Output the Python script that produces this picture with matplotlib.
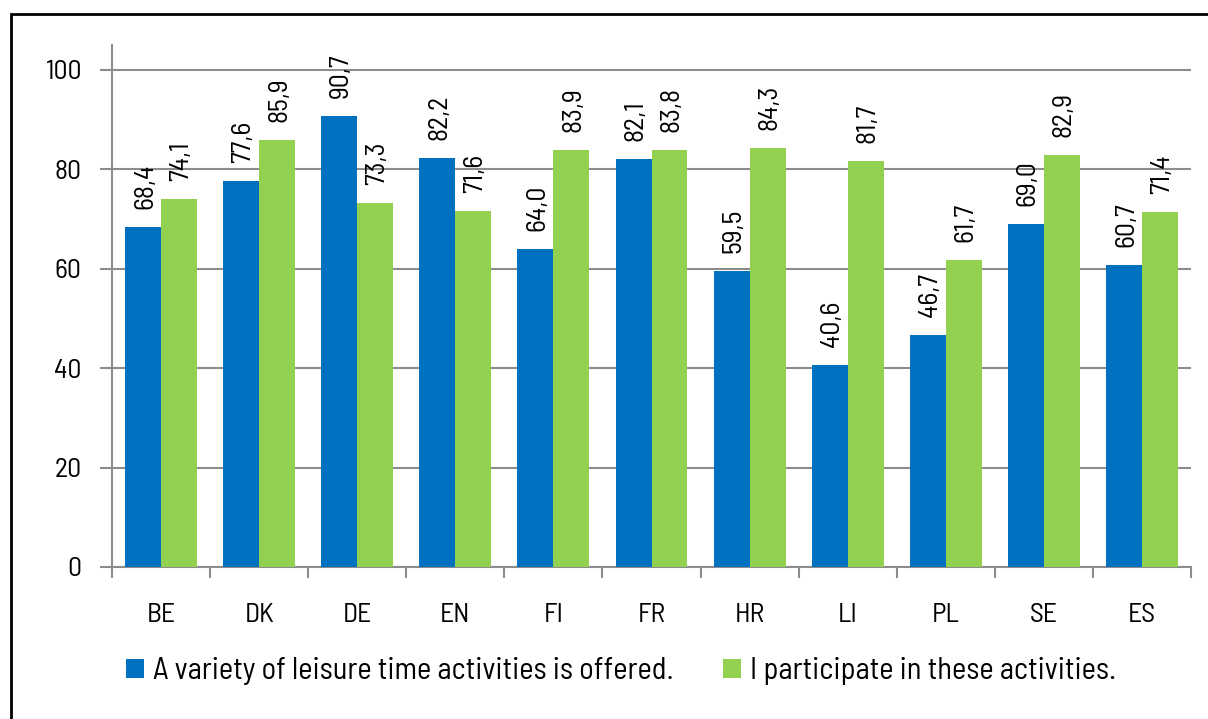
import matplotlib.pyplot as plt
import numpy as np
from matplotlib.patches import Rectangle

countries = ['BE', 'DK', 'DE', 'EN', 'FI', 'FR', 'HR', 'LI', 'PL', 'SE', 'ES']
offered = [68.4, 77.6, 90.7, 82.2, 64.0, 82.1, 59.5, 40.6, 46.7, 69.0, 60.7]
participate = [74.1, 85.9, 73.3, 71.6, 83.9, 83.8, 84.3, 81.7, 61.7, 82.9, 71.4]
series_names = ['A variety of leisure time activities is offered.',
                'I participate in these activities.']

blue = '#0070C0'
green = '#92D050'
grid_col = '#8c8c8c'

plt.rcParams['font.family'] = ['Barlow Semi Condensed', 'Lato', 'DejaVu Sans']

fig = plt.figure(figsize=(12.08, 7.19), dpi=100)
# outer frame
fig.patches.append(Rectangle((11 / 1208, -0.1), 1.2, 1 - 14 / 719 + 0.1,
                             transform=fig.transFigure, fill=False,
                             edgecolor='black', linewidth=2))

ax = fig.add_axes([112 / 1208, 1 - 567 / 719, (1191 - 112) / 1208, (567 - 45) / 719])

x = np.arange(len(countries))
w = 0.367
b1 = ax.bar(x - w / 2, offered, w, color=blue, label=series_names[0], zorder=3)
b2 = ax.bar(x + w / 2, participate, w, color=green, label=series_names[1], zorder=3)

for bars, vals in [(b1, offered), (b2, participate)]:
    for r, v in zip(bars, vals):
        ax.text(r.get_x() + r.get_width() / 2 + 0.02, v + 3.6, f'{v:.1f}'.replace('.', ','),
                rotation=90, ha='center', va='bottom', fontsize=20)

ax.set_xlim(-0.5, len(countries) - 0.5)
ax.set_ylim(0, 105)
ax.set_yticks([0, 20, 40, 60, 80, 100])
ax.tick_params(axis='y', labelsize=20, length=9, color=grid_col, width=1.5, pad=13)
ax.yaxis.grid(True, color=grid_col, linewidth=1.5, zorder=0)

ax.set_xticks(x)
ax.set_xticklabels(countries)
ax.tick_params(axis='x', labelsize=20, length=0, pad=26)
ax.set_xticks(np.arange(-0.5, len(countries)), minor=True)
ax.tick_params(axis='x', which='minor', length=8, color=grid_col, width=1.5)

for s in ['top', 'right']:
    ax.spines[s].set_visible(False)
for s in ['left', 'bottom']:
    ax.spines[s].set_color(grid_col)
    ax.spines[s].set_linewidth(1.5)

fig.legend(handles=[b1, b2], labels=series_names, loc='center',
           bbox_to_anchor=(621 / 1208, 1 - 671 / 719), ncol=2, frameon=False,
           fontsize=22, handlelength=0.6, handleheight=0.6, handletextpad=0.3,
           columnspacing=1.6)

fig.savefig('out.png', dpi=100)
